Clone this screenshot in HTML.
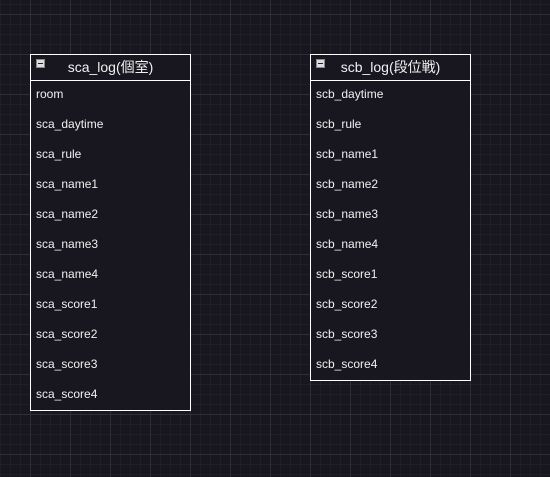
<!DOCTYPE html>
<html><head><meta charset="utf-8"><style>
body{margin:0;width:550px;height:477px;overflow:hidden;background-color:#18161f;
background-image:
linear-gradient(#2f2d37 1px,transparent 1px),
linear-gradient(90deg,#2f2d37 1px,transparent 1px),
linear-gradient(#201e28 1px,transparent 1px),
linear-gradient(90deg,#201e28 1px,transparent 1px);
background-size:40px 40px,40px 40px,10px 10px,10px 10px;
background-position:0 14px,30px 0,0 4px,0 0;
font-family:"Liberation Sans","Noto Sans CJK JP",sans-serif;color:#f0f0f0;}
.t{position:absolute;border:1px solid #fff;background:#18161f;box-sizing:border-box}
.h{height:25px;border-bottom:1px solid #fff;text-align:center;line-height:25px;font-size:14px;position:relative}
.h i{position:absolute;left:5px;top:4px;width:7px;height:7px;background:#ddd;border:1px solid #888}
.h i:after{content:"";position:absolute;left:1px;top:3px;width:5px;height:1px;background:#222}
.r{height:30px;line-height:26px;padding-left:5px;font-size:12px}
</style></head><body>
<div class="t" style="left:30px;top:54px;width:161px;height:357px">
<div class="h"><i></i>sca_log(個室)</div>
<div class="r">room</div><div class="r">sca_daytime</div><div class="r">sca_rule</div><div class="r">sca_name1</div><div class="r">sca_name2</div><div class="r">sca_name3</div><div class="r">sca_name4</div><div class="r">sca_score1</div><div class="r">sca_score2</div><div class="r">sca_score3</div><div class="r">sca_score4</div>
</div>
<div class="t" style="left:310px;top:54px;width:161px;height:327px">
<div class="h"><i></i>scb_log(段位戦)</div>
<div class="r">scb_daytime</div><div class="r">scb_rule</div><div class="r">scb_name1</div><div class="r">scb_name2</div><div class="r">scb_name3</div><div class="r">scb_name4</div><div class="r">scb_score1</div><div class="r">scb_score2</div><div class="r">scb_score3</div><div class="r">scb_score4</div>
</div>
</body></html>
